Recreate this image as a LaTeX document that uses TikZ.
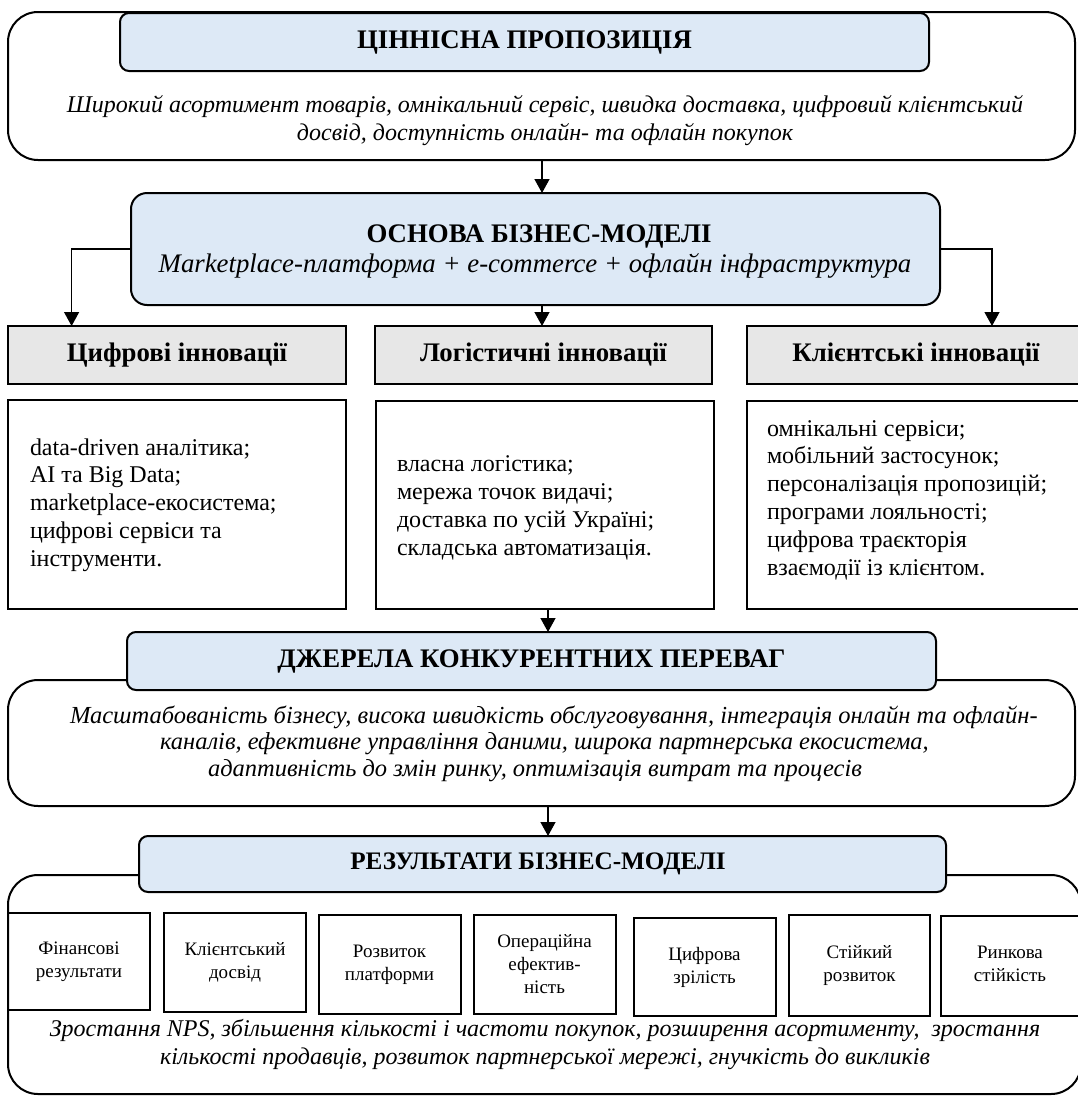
\documentclass[tikz,border=0pt]{standalone}
\usepackage{fontspec}
\setmainfont{Liberation Serif}
\usetikzlibrary{arrows.meta,calc}
\definecolor{paleblue}{RGB}{221,233,246}
\definecolor{palegray}{RGB}{231,231,231}
\begin{document}
\begin{tikzpicture}[x=1pt,y=-1pt,
  every node/.style={inner sep=0pt, outer sep=0pt},
  panel/.style={draw, line width=2pt, rounded corners=30pt, anchor=north west},
  banner/.style={draw, line width=2pt, rounded corners=9pt, fill=paleblue, anchor=north west},
  header/.style={draw, line width=2pt, fill=palegray, anchor=north west},
  listbox/.style={draw, line width=2pt, anchor=north west},
  resbox/.style={draw, line width=2pt, anchor=north west, align=center,
    font=\fontsize{19}{23}\selectfont},
  titletext/.style={font=\fontsize{26.8}{30}\selectfont\bfseries},
  bodytext/.style={font=\fontsize{24}{28}\selectfont\itshape, align=center},
  bodyline/.style={font=\fontsize{24.5}{28}\selectfont\itshape, anchor=west},
  listtext/.style={font=\fontsize{24}{27.8}\selectfont, align=left, anchor=west},
  arr/.style={line width=1.3pt, -{Triangle[width=15pt,length=14pt]}},
]
\useasboundingbox (0,0) rectangle (1077,1098);

% ---- value proposition ----
\node[panel, minimum width=1067pt, minimum height=148pt] (vpPanel) at (8,12) {};
\node[banner, minimum width=809pt, minimum height=58pt, titletext] (vpBanner) at (120,13) {ЦІННІСНА ПРОПОЗИЦІЯ};
\node[bodytext] (vpText) at (545,121) {Широкий асортимент товарів, омнікальний сервіс, швидка доставка, цифровий клієнтський\\досвід, доступність онлайн- та офлайн покупок};

% ---- business model core ----
\node[banner, rounded corners=16pt, minimum width=809pt, minimum height=112pt] (base) at (131,193) {};
\node[titletext] (baseTitle) at (539,236) {ОСНОВА БІЗНЕС-МОДЕЛІ};
\node[font=\fontsize{26.8}{30}\selectfont\itshape] (baseSub) at (535,266) {Marketplace-платформа + e-commerce + офлайн інфраструктура};

% ---- innovation headers ----
\node[header, minimum width=338pt, minimum height=58pt, titletext] (digHead) at (8,326) {Цифрові інновації};
\node[header, minimum width=337pt, minimum height=58pt, titletext] (logHead) at (375,326) {Логістичні інновації};
\node[header, minimum width=338pt, minimum height=58pt, titletext] (cliHead) at (747,326) {Клієнтські інновації};

% ---- innovation lists ----
\node[listbox, minimum width=338pt, minimum height=209pt] (digList) at (8,400) {};
\node[listtext] (digItems) at (30,505) {data-driven аналітика;\\AI та Big Data;\\marketplace-екосистема;\\цифрові сервіси та\\інструменти.};
\node[listbox, minimum width=338pt, minimum height=208pt] (logList) at (376,401) {};
\node[listtext] (logItems) at (397,508) {власна логістика;\\мережа точок видачі;\\доставка по усій Україні;\\складська автоматизація.};
\node[listbox, minimum width=338pt, minimum height=208pt] (cliList) at (747,401) {};
\node[listtext] (cliItems) at (767,500) {омнікальні сервіси;\\мобільний застосунок;\\персоналізація пропозицій;\\програми лояльності;\\цифрова траєкторія\\взаємодії із клієнтом.};

% ---- competitive advantages ----
\node[panel, minimum width=1067pt, minimum height=126pt] (srcPanel) at (8,680) {};
\node[banner, minimum width=809pt, minimum height=58pt, titletext] (srcBanner) at (127,632) {ДЖЕРЕЛА КОНКУРЕНТНИХ ПЕРЕВАГ};
\node[bodyline] (srcLineA) at (70,717) {Масштабованість бізнесу, висока швидкість обслуговування, інтеграція онлайн та офлайн-};
\node[bodyline] (srcLineB) at (160,744) {каналів, ефективне управління даними, широка партнерська екосистема,};
\node[bodyline] (srcLineC) at (208,771) {адаптивність до змін ринку, оптимізація витрат та процесів};

% ---- results ----
\node[panel, minimum width=1073pt, minimum height=219pt] (resPanel) at (8,875) {};
\node[banner, minimum width=807pt, minimum height=56pt] (resBanner) at (139,836) {};
\node[font=\fontsize{25.2}{29}\selectfont\bfseries] (resTitle) at (538,864) {РЕЗУЛЬТАТИ БІЗНЕС-МОДЕЛІ};

\node[resbox, minimum width=142pt, minimum height=97pt] (resA) at (8,913) {Фінансові\\результати};
\node[resbox, minimum width=142pt, minimum height=99pt] (resB) at (164,913) {Клієнтський\\досвід};
\node[resbox, minimum width=142pt, minimum height=99pt] (resC) at (318.5,915) {Розвиток\\платформи};
\node[resbox, minimum width=142pt, minimum height=99pt] (resD) at (473.5,915) {Операційна\\ефектив-\\ність};
\node[resbox, minimum width=142pt, minimum height=98pt] (resE) at (633.5,918) {Цифрова\\зрілість};
\node[resbox, minimum width=141pt, minimum height=101pt] (resF) at (789,915) {Стійкий\\розвиток};
\node[resbox, minimum width=150pt, minimum height=100pt] (resG) at (940.5,916) {};
\node[font=\fontsize{19}{23}\selectfont, align=center] (resGText) at (1010,964) {Ринкова\\стійкість};

\node[bodytext] (resText) at (545,1044) {Зростання NPS, збільшення кількості і частоти покупок, розширення асортименту, \ зростання\\кількості продавців, розвиток партнерської мережі, гнучкість до викликів};

% ---- connectors ----
\coordinate (spine) at (542,0);
\coordinate (spineLow) at (548,0);
\draw[arr] (spine |- vpPanel.south) -- (spine |- base.north);
\draw[arr] (base.west) -| ([xshift=-105.4pt]digHead.north);
\draw[arr] (spine |- base.south) -- (spine |- logHead.north);
\draw[arr] (base.east) -| ([xshift=76pt]cliHead.north);
\draw[arr] (spineLow |- logList.south) -- (spineLow |- srcBanner.north);
\draw[arr] (spineLow |- srcPanel.south) -- (spineLow |- resBanner.north);
\end{tikzpicture}
\end{document}
